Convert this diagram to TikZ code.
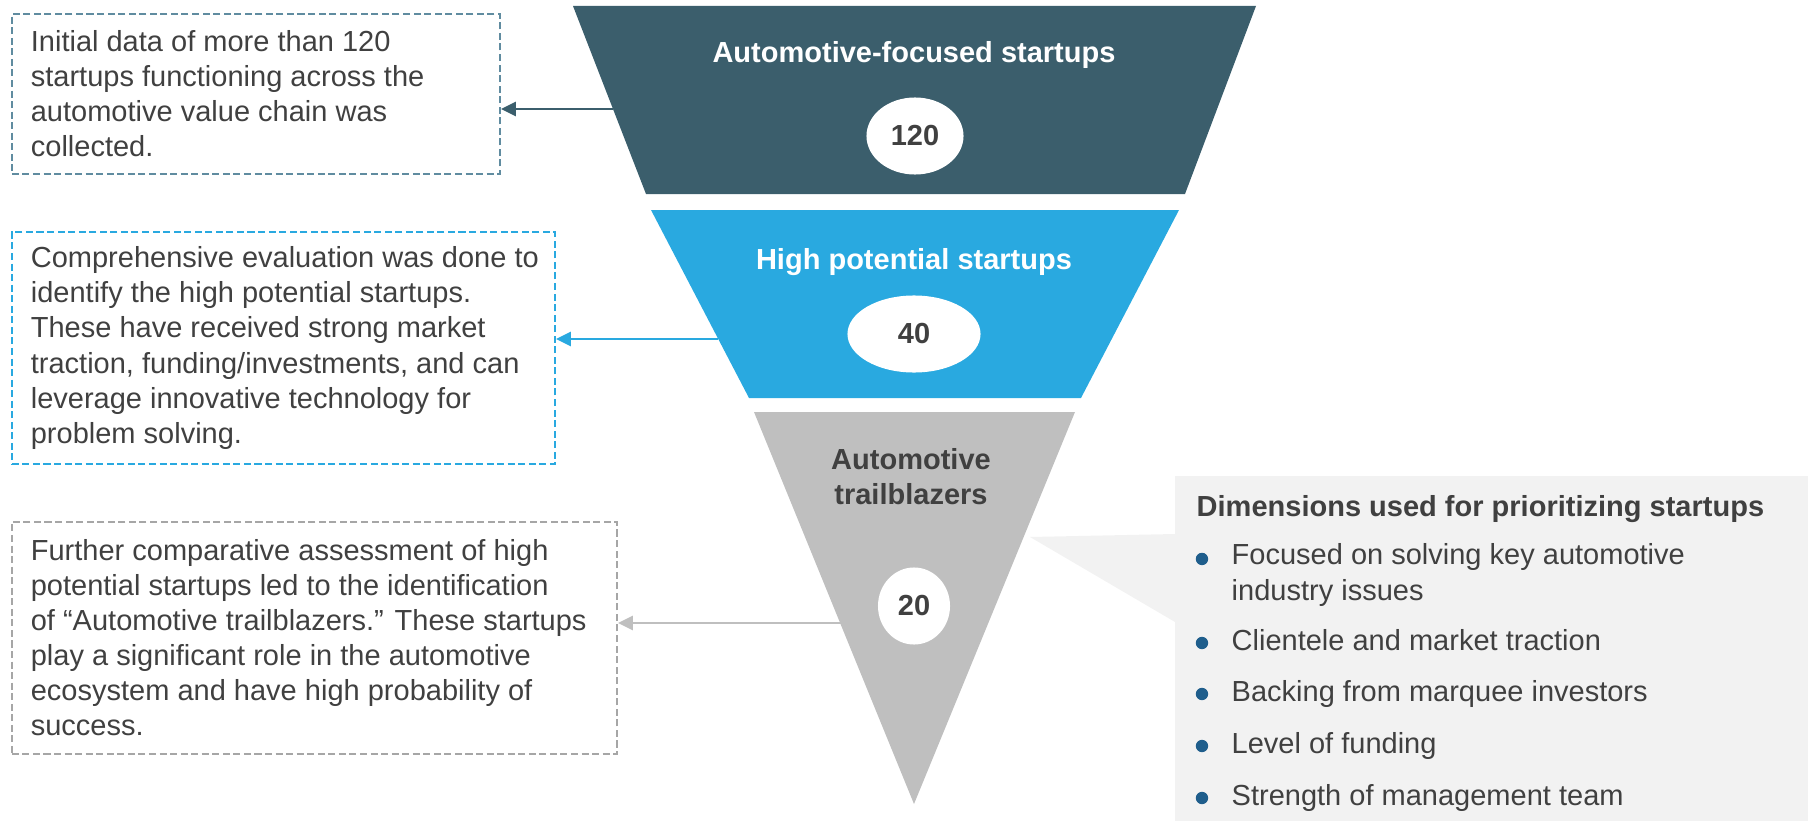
\documentclass[tikz,border=0pt]{standalone}
\usepackage{fontspec}
\setmainfont{Liberation Sans}
\usepackage{tikz}
\usetikzlibrary{arrows.meta, positioning, shapes.geometric}
\definecolor{funneldark}{RGB}{59,94,108}
\definecolor{funnelblue}{RGB}{41,169,224}
\definecolor{funnelgray}{RGB}{191,191,191}
\definecolor{noteslate}{RGB}{96,140,160}
\definecolor{notegray}{RGB}{166,166,166}
\definecolor{textgray}{RGB}{64,64,64}
\definecolor{calloutbg}{RGB}{242,242,242}
\definecolor{dotblue}{RGB}{31,94,140}
\newcommand{\bodysize}{\fontsize{8.25pt}{9.96pt}\selectfont}
\tikzset{
    % Funnel stages
    stagetitle/.style={font=\bodysize\bfseries, text=white, align=center, inner sep=0pt},
    stagecount/.style={ellipse, fill=white, inner sep=0pt, font=\bodysize\bfseries, text=textgray},
    % Side notes
    noteframe/.style={rectangle, draw=#1, line width=0.4pt, dash pattern=on 2pt off 1pt},
    notetext/.style={font=\bodysize, text=textgray, align=left, inner sep=0pt},
    notearrow/.style={-{Triangle[length=1.5mm, width=1.4mm]}, line width=0.8pt, draw=#1, fill=#1},
    % Prioritizing dimensions
    dimhead/.style={font=\bodysize\bfseries, text=textgray, inner sep=0pt, anchor=base west},
    dimitem/.style={font=\bodysize, text=textgray, align=left, inner sep=0pt, anchor=base west},
    dimdot/.style={fill=dotblue},
}

\begin{document}
\begin{tikzpicture}[x=0.01cm, y=-0.01cm]
\useasboundingbox (0,0) rectangle (1808,821);

% funnel
\fill[funneldark] (573,6) -- (1256,6) -- (1185,194) -- (646,194) -- cycle;
\fill[funnelblue] (651,210) -- (1179,210) -- (1081,398) -- (749,398) -- cycle;
\fill[funnelgray] (754,412) -- (1075,412) -- (914,804) -- cycle;

% callout behind the dimensions list
\fill[calloutbg] (1030,537) -- (1175,534) -- (1175,476) -- (1808,476)
    -- (1808,821) -- (1175,821) -- (1175,622) -- cycle;

\node[stagetitle] (title1) at (914,55) {Automotive-focused startups};
\node[stagecount, minimum width=0.97cm, minimum height=0.77cm] (count1) at (915,136) {120};
\node[stagetitle] (title2) at (914,262) {High potential startups};
\node[stagecount, minimum width=1.33cm, minimum height=0.77cm] (count2) at (914,334) {40};
\node[stagetitle, text=textgray] (title3) at (911,477) {Automotive\\trailblazers};
\node[stagecount, minimum width=0.72cm, minimum height=0.77cm] (count3) at (914,606) {20};

% notes on the left
\node[noteframe=noteslate, minimum width=4.88cm, minimum height=1.60cm] (note1) at (256,94) {};
\node[notetext, right=0.19cm of note1.west] (text1) {Initial data of more than 120\\startups functioning across the\\automotive value chain was\\collected.};

\node[noteframe=funnelblue, minimum width=5.43cm, minimum height=2.32cm] (note2) at (283.5,348) {};
\node[notetext, right=0.19cm of note2.west] (text2) {Comprehensive evaluation was done to\\identify the high potential startups.\\These have received strong market\\traction, funding/investments, and can\\leverage innovative technology for\\problem solving.};

\node[noteframe=notegray, minimum width=6.05cm, minimum height=2.32cm] (note3) at (314.5,638) {};
\node[notetext, right=0.19cm of note3.west] (text3) {Further comparative assessment of high\\potential startups led to the identification\\of “Automotive trailblazers.” These startups\\play a significant role in the automotive\\ecosystem and have high probability of\\success.};

\coordinate (edge1) at (613,109);
\coordinate (edge2) at (718,339);
\coordinate (edge3) at (841,623);
\draw[notearrow=funneldark] (edge1) -- (edge1 -| note1.east);
\draw[notearrow=funnelblue] (edge2) -- (edge2 -| note2.east);
\draw[notearrow=funnelgray] (edge3) -- (edge3 -| note3.east);

% dimensions list
\node[dimhead] (head) at (1196,516) {Dimensions used for prioritizing startups};
\node[dimitem] (dim1) at (1231,600) {Focused on solving key automotive\\industry issues};
\node[dimitem] (dim2) at (1231,650) {Clientele and market traction};
\node[dimitem] (dim3) at (1231,701) {Backing from marquee investors};
\node[dimitem] (dim4) at (1231,753) {Level of funding};
\node[dimitem] (dim5) at (1231,805) {Strength of management team};

\fill[dimdot] ([xshift=-0.29cm, yshift=0.41cm]dim1.base west) circle (0.062cm);
\fill[dimdot] ([xshift=-0.29cm, yshift=0.07cm]dim2.base west) circle (0.062cm);
\fill[dimdot] ([xshift=-0.29cm, yshift=0.07cm]dim3.base west) circle (0.062cm);
\fill[dimdot] ([xshift=-0.29cm, yshift=0.07cm]dim4.base west) circle (0.062cm);
\fill[dimdot] ([xshift=-0.29cm, yshift=0.07cm]dim5.base west) circle (0.062cm);
\end{tikzpicture}
\end{document}
